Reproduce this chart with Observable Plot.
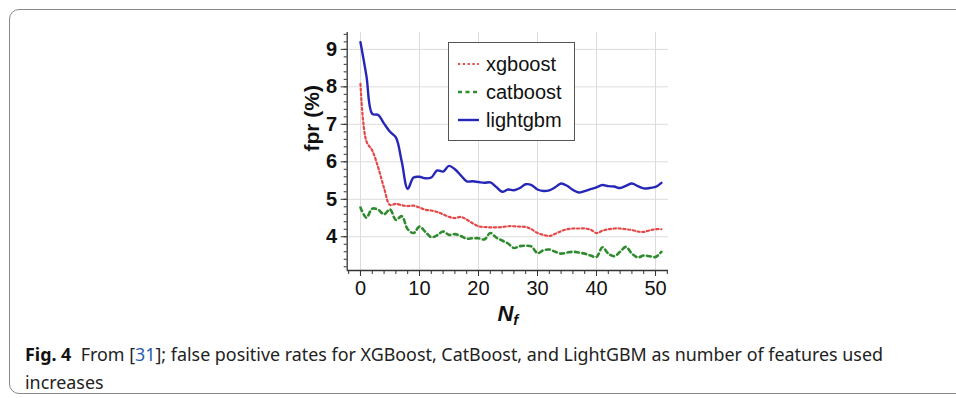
<!DOCTYPE html>
<html><head><meta charset="utf-8">
<script src="https://cdn.jsdelivr.net/npm/d3@7"></script>
<script src="https://cdn.jsdelivr.net/npm/@observablehq/plot@0.6"></script>
<style>
html,body{margin:0;padding:0;background:#fff;}
body{width:956px;height:398px;position:relative;overflow:hidden;font-family:"Liberation Sans",Arial,sans-serif;}
#frame{position:absolute;left:9px;top:9px;width:960px;height:385px;border:1px solid #8a8a8a;border-radius:10px;box-sizing:border-box;}
#chart{position:absolute;left:0;top:0;}
#legend{position:absolute;left:448px;top:42px;width:127px;height:99px;border:1.5px solid #555;box-sizing:border-box;background:#fff;}
.row{position:absolute;left:0;height:24px;display:flex;align-items:center;font-size:20px;color:#111;}
.row svg{margin-left:9px;margin-right:7px;}
#caption{position:absolute;left:25px;top:340px;font-family:"Noto Sans","Open Sans",sans-serif;font-size:18px;line-height:28px;color:#222;transform-origin:0 0;white-space:nowrap;}
#caption b{font-weight:700;color:#111;}
#caption .ref{color:#2a5db0;}
</style>
</head><body>
<div id="frame"></div>
<div id="chart"></div>
<div id="legend"></div>
<div id="caption"><div id="cap1"><span id="capline"><b>Fig. 4</b>&nbsp; From [<span class="ref">31</span>]; false positive rates for XGBoost, CatBoost, and LightGBM as number of features used</span></div><div>increases</div></div>
<script>
// ---- data ----
const nf = d3.range(0, 52);
const xgboost = [8.08,6.55,6.3,5.85,5.3,4.85,4.88,4.84,4.82,4.83,4.78,4.72,4.7,4.66,4.6,4.53,4.5,4.53,4.46,4.36,4.28,4.26,4.25,4.25,4.26,4.28,4.28,4.27,4.26,4.2,4.1,4.05,4.02,4.08,4.15,4.2,4.22,4.22,4.22,4.19,4.1,4.16,4.2,4.22,4.22,4.2,4.18,4.14,4.13,4.17,4.2,4.2];
const catboost = [4.78,4.51,4.75,4.72,4.6,4.73,4.45,4.55,4.2,4.1,4.27,4.13,3.99,4.04,4.14,4.05,4.07,4.02,3.95,3.96,3.96,3.93,4.1,3.98,3.9,3.82,3.7,3.75,3.76,3.74,3.56,3.64,3.66,3.6,3.55,3.58,3.6,3.58,3.55,3.5,3.46,3.72,3.55,3.48,3.6,3.73,3.55,3.45,3.5,3.48,3.46,3.6];
const lightgbm = [9.19,8.3,7.28,7.25,7.02,6.8,6.65,6.0,5.28,5.58,5.6,5.56,5.58,5.77,5.74,5.89,5.8,5.64,5.48,5.48,5.46,5.44,5.45,5.33,5.2,5.26,5.24,5.3,5.4,5.38,5.26,5.22,5.24,5.32,5.42,5.36,5.25,5.18,5.22,5.27,5.32,5.38,5.35,5.34,5.3,5.36,5.42,5.35,5.29,5.3,5.33,5.44];
const seriesNames = ["xgboost","catboost","lightgbm"];
const seriesColors = ["#e64848","#2e8b2e","#2626b8"];
const seriesDash = ["2.2,2.6","4,3.5",null];
const seriesWidth = [2.2,2.6,2.4];
const xTicks = [0,10,20,30,40,50];
const yTicks = [4,5,6,7,8,9];
const xDomain = [-2.25, 52.2];
const yDomain = [3.1, 9.45];

const allSeries = [xgboost, catboost, lightgbm];
const lineMarks = allSeries.map((vals, i) =>
  Plot.line(nf.map((x, j) => ({x, y: vals[j]})), {
    x: "x", y: "y", stroke: seriesColors[i], strokeWidth: seriesWidth[i],
    strokeDasharray: seriesDash[i], curve: "catmull-rom"
  })
);

const chart = Plot.plot({
  width: 956, height: 340,
  marginLeft: 346.7, marginRight: 288, marginTop: 32, marginBottom: 70,
  style: {fontFamily: "Liberation Sans, Arial, sans-serif", color: "#111", background: "transparent"},
  x: {domain: xDomain},
  y: {domain: yDomain},
  marks: [
    Plot.gridX(xTicks, {stroke: "#dcdcdc", strokeOpacity: 1}),
    Plot.gridY(yTicks, {stroke: "#dcdcdc", strokeOpacity: 1}),
    Plot.axisY(d3.range(3.2, 9.45, 0.2), {tickSize: 3, text: null, label: null, stroke: "#333"}),
    Plot.axisY(yTicks, {tickSize: 6, tickPadding: 4, fontSize: 20, fontWeight: "bold", label: null, stroke: "#333"}),
    Plot.axisX(d3.range(-2, 52.1, 2), {tickSize: 4, text: null, label: null, stroke: "#333"}),
    Plot.axisX(xTicks, {tickSize: 6, tickPadding: 4, fontSize: 20, label: null, stroke: "#333"}),
    Plot.ruleX([xDomain[0]], {stroke: "#333", strokeWidth: 1.3}),
    Plot.ruleY([yDomain[0]], {stroke: "#333", strokeWidth: 1.3}),
    ...lineMarks,
    Plot.text(["fpr (%)"], {frameAnchor: "left", dx: -35, rotate: -90, fontSize: 21, fontWeight: "bold", fill: "#111"}),
    Plot.text(["Nf"], {frameAnchor: "bottom", dy: 50, fontSize: 22, fontWeight: "bold", fontStyle: "italic", fill: "#111"})
  ]
});
document.getElementById("chart").appendChild(chart);

// subscript for N_f
d3.select(chart).selectAll("text").each(function(){
  const t = d3.select(this);
  if (t.text() === "Nf") {
    t.text("");
    t.append("tspan").text("N");
    t.append("tspan").attr("font-size", 15).attr("dy", "0.3em").text("f");
  }
});

// legend
const legend = document.getElementById("legend");
seriesNames.forEach((name, i) => {
  const row = document.createElement("div");
  row.className = "row";
  row.style.top = (9 + i * 28) + "px";
  const dash = seriesDash[i] ? `stroke-dasharray="${seriesDash[i]}"` : "";
  row.innerHTML = `<svg width="21" height="10"><line x1="0" y1="5" x2="21" y2="5" stroke="${seriesColors[i]}" stroke-width="${seriesWidth[i]}" ${dash}/></svg><span>${name}</span>`;
  legend.appendChild(row);
});

// caption width fit
const cap = document.getElementById("caption");
const w = document.getElementById("capline").getBoundingClientRect().width;
cap.style.transform = `scaleX(${858 / w})`;
</script>
</body></html>
